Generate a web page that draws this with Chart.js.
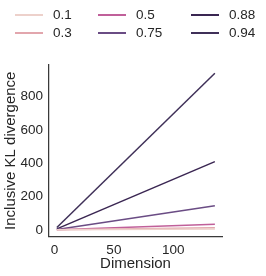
<!DOCTYPE html>
<html>
<head>
<meta charset="utf-8">
<script src="https://cdn.jsdelivr.net/npm/chart.js@4"></script>
<style>
  html, body { margin: 0; padding: 0; background: #fff; }
  #wrap { position: relative; width: 266px; height: 276px; }
  #legend { position: absolute; left: 0; top: 0; width: 266px; height: 50px;
            font-family: "Liberation Sans", Arial, sans-serif; font-size: 13.5px; color: #262626; }
  .item { position: absolute; height: 18px; line-height: 18px; }
  .item span.swatch { position: absolute; left: 0; top: 8px; width: 28px; height: 2px; }
  .item span.lab { position: absolute; left: 38px; top: 0; white-space: nowrap; }
</style>
</head>
<body>
<div id="wrap">
  <canvas id="chart" width="266" height="276"></canvas>
  <div id="legend"></div>
</div>
<script>
// fraction levels shown in the legend
const levels = ["0.1", "0.3", "0.5", "0.75", "0.88", "0.94"];
const colors = ["#edd1cb", "#e2a6ad", "#c0609a", "#6a4c84", "#3a2652", "#3f3058"];

// dimension (x) and inclusive KL divergence (y)
const dims = [2, 135];
const kl01 = [0.2, 5];
const kl03 = [0.4, 12];
const kl05 = [0.6, 34];
const kl075 = [2, 144];
const kl088 = [6, 410];
const kl094 = [14, 940];
const series = [kl01, kl03, kl05, kl075, kl088, kl094];

const yTicks = [0, 200, 400, 600, 800];
const xTicks = [0, 50, 100];

const tickFont = { family: '"Liberation Sans", Arial, sans-serif', size: 13.5 };
const titleFont = { family: '"Liberation Sans", Arial, sans-serif', size: 15 };
const ink = "#262626";

const ctx = document.getElementById("chart").getContext("2d");
const chart = new Chart(ctx, {
  type: "line",
  data: {
    datasets: levels.map((lv, i) => ({
      label: lv,
      data: dims.map((d, j) => ({ x: d, y: series[i][j] })),
      borderColor: colors[i],
      backgroundColor: colors[i],
      borderWidth: 1.5,
      pointRadius: 0,
      tension: 0,
    })),
  },
  options: {
    responsive: false,
    animation: false,
    layout: { padding: { left: 0, right: 44, top: 65, bottom: 0 } },
    plugins: { legend: { display: false }, tooltip: { enabled: false } },
    scales: {
      x: {
        type: "linear",
        min: -4.6,
        max: 141,
        afterBuildTicks: (s) => { s.ticks = xTicks.map((v) => ({ value: v })); },
        afterFit: (s) => { s.height = 39.5; },
        grid: { display: false, drawTicks: false },
        border: { display: true, color: "#3a3a3a", width: 1.25 },
        ticks: { color: ink, font: tickFont, padding: 6, maxRotation: 0 },
        title: { display: true, text: "Dimension", color: ink, font: titleFont, padding: { top: 0, bottom: 3 } },
      },
      y: {
        type: "linear",
        min: -40,
        max: 990,
        afterBuildTicks: (s) => { s.ticks = yTicks.map((v) => ({ value: v })); },
        afterFit: (s) => { s.width = 49; },
        grid: { display: false, drawTicks: false },
        border: { display: true, color: "#3a3a3a", width: 1.25 },
        ticks: { color: ink, font: tickFont, padding: 6 },
        title: { display: true, text: "Inclusive KL divergence", color: ink, font: titleFont, padding: { top: 2, bottom: 0 } },
      },
    },
  },
});

// legend in three columns, filled column by column like matplotlib
const colLeft = [15, 98, 191];
const rowTop = [6, 24];
const legend = document.getElementById("legend");
chart.data.datasets.forEach((ds, i) => {
  const el = document.createElement("div");
  el.className = "item";
  el.style.left = colLeft[Math.floor(i / 2)] + "px";
  el.style.top = rowTop[i % 2] + "px";
  el.innerHTML = '<span class="swatch" style="background:' + ds.borderColor + '"></span><span class="lab"></span>';
  el.querySelector(".lab").textContent = ds.label;
  legend.appendChild(el);
});
</script>
</body>
</html>
